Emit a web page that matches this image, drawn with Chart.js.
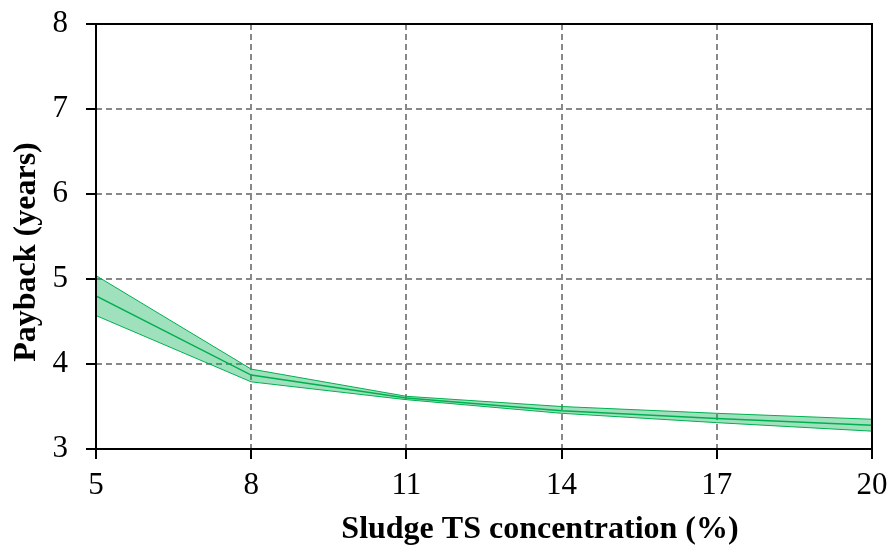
<!DOCTYPE html>
<html>
<head>
<meta charset="utf-8">
<script src="https://cdn.jsdelivr.net/npm/chart.js@4"></script>
<style>
    html, body { margin: 0; padding: 0; background: #fff; }
    #wrap { width: 892px; height: 546px; }
</style>
</head>
<body>
<div id="wrap"><canvas id="paybackChart" width="892" height="546"></canvas></div>
<script>
const tsConcentration = [5, 8, 11, 14, 17, 20];
const paybackMid = [4.80, 3.87, 3.60, 3.45, 3.36, 3.28];
const paybackHigh = [5.04, 3.94, 3.62, 3.50, 3.42, 3.35];
const paybackLow = [4.57, 3.79, 3.58, 3.42, 3.31, 3.21];
const xTicks = [5, 8, 11, 14, 17, 20];
const yTicks = [3, 4, 5, 6, 7, 8];
const xTitle = 'Sludge TS concentration (%)';
const yTitle = 'Payback (years)';

const green = '#00b050';
const bandFill = 'rgba(0, 176, 80, 0.38)';
const serif = "'Liberation Serif', 'Times New Roman', serif";

function toPoints(vals) {
    return tsConcentration.map((x, i) => ({ x: x, y: vals[i] }));
}

// black frame round the plot area + axis titles (placed off-centre like the original)
const frame = {
    id: 'frame',
    afterDraw(chart) {
        const a = chart.chartArea;
        const ctx = chart.ctx;
        ctx.save();
        ctx.strokeStyle = '#000';
        ctx.lineWidth = 2;
        ctx.strokeRect(a.left, a.top, a.right - a.left, a.bottom - a.top);

        ctx.fillStyle = '#000';
        ctx.font = 'bold 32px ' + serif;
        ctx.textAlign = 'center';
        ctx.textBaseline = 'alphabetic';
        ctx.fillText(xTitle, 540, 538);

        ctx.translate(35, 252);
        ctx.rotate(-Math.PI / 2);
        ctx.fillText(yTitle, 0, 0);
        ctx.restore();
    }
};

const gridOpts = {
    color: '#888',
    lineWidth: 2,
    tickColor: '#000',
    tickWidth: 2,
    tickLength: 10,
    tickBorderDash: []
};

// fixed box sizes, no extra room for end labels
function fixX(s) {
    s.height = 97;
    s.paddingLeft = 0;
    s.paddingRight = 0;
}
function fixY(s) {
    s.width = 88;
    s.paddingTop = 0;
    s.paddingBottom = 0;
}

const ctx = document.getElementById('paybackChart').getContext('2d');
new Chart(ctx, {
    type: 'line',
    data: {
        datasets: [
            {
                label: 'low',
                data: toPoints(paybackLow),
                borderColor: green,
                borderWidth: 1,
                pointRadius: 0,
                fill: false
            },
            {
                label: 'mid',
                data: toPoints(paybackMid),
                borderColor: green,
                borderWidth: 1.5,
                pointRadius: 0,
                fill: false
            },
            {
                label: 'high',
                data: toPoints(paybackHigh),
                borderColor: green,
                backgroundColor: bandFill,
                borderWidth: 1,
                pointRadius: 0,
                fill: 0
            }
        ]
    },
    options: {
        responsive: false,
        animation: false,
        layout: { padding: { top: 24, right: 20, left: 8, bottom: 0 } },
        plugins: {
            legend: { display: false },
            tooltip: { enabled: false }
        },
        scales: {
            x: {
                type: 'linear',
                min: 5,
                max: 20,
                afterBuildTicks: s => { s.ticks = xTicks.map(v => ({ value: v })); },
                afterFit: fixX,
                grid: gridOpts,
                border: { display: false, dash: [6, 4] },
                ticks: {
                    color: '#000',
                    font: { family: serif, size: 31 },
                    padding: 8,
                    maxRotation: 0
                }
            },
            y: {
                min: 3,
                max: 8,
                afterBuildTicks: s => { s.ticks = yTicks.map(v => ({ value: v })); },
                afterFit: fixY,
                grid: gridOpts,
                border: { display: false, dash: [6, 4] },
                ticks: {
                    color: '#000',
                    font: { family: serif, size: 31 },
                    padding: 18
                }
            }
        }
    },
    plugins: [frame]
});
</script>
</body>
</html>
